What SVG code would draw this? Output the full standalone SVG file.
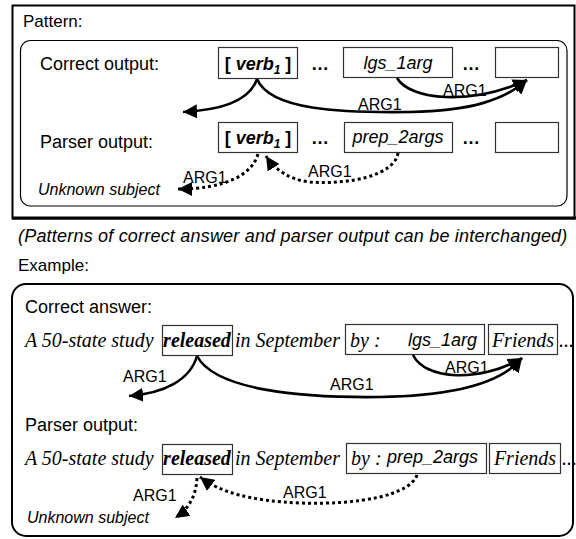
<svg xmlns="http://www.w3.org/2000/svg" width="576" height="539" viewBox="0 0 576 539">
<defs>
<marker id="ah" markerUnits="userSpaceOnUse" markerWidth="16" markerHeight="14" refX="14" refY="7" orient="auto">
<path d="M0,0 L14,7 L0,14 Z" fill="#000"/>
</marker>
<style>
.sans{font-family:"Liberation Sans",Arial,sans-serif;fill:#000}
.serif{font-family:"Liberation Serif","Times New Roman",serif;fill:#000;font-style:italic;font-size:20px}
.lbl{font-size:18px}
.arg{font-size:16px}
.it{font-style:italic}
.box{fill:#fff;stroke:#333;stroke-width:1.2}
.solid{fill:none;stroke:#000;stroke-width:2.6;marker-end:url(#ah)}
.dot{fill:none;stroke:#000;stroke-width:3;stroke-dasharray:3 3;marker-end:url(#ah)}
</style>
</defs>
<g id="pattern-frame">
<rect x="12.5" y="5.5" width="562" height="213" fill="none" stroke="#000" stroke-width="2"/>
<line x1="12" y1="218" x2="576" y2="218" stroke="#000" stroke-width="3"/>
<text class="sans" font-size="17" x="23" y="27">Pattern:</text>
<rect x="20.5" y="40.5" width="546.5" height="165.5" rx="10" fill="none" stroke="#000" stroke-width="1.2"/>
</g>
<g id="pattern-correct">
<text class="sans lbl" x="40" y="70">Correct output:</text>
<g id="p-verb1"><rect class="box" x="218.5" y="47.5" width="79" height="31"/>
<text class="sans lbl" x="258" y="70" text-anchor="middle" font-weight="bold">[ <tspan font-style="italic">verb</tspan><tspan font-style="italic" font-size="12" dy="4">1</tspan><tspan dy="-4"> ]</tspan></text></g>
<text class="sans lbl" x="311" y="70" font-weight="bold">…</text>
<g id="p-lgs"><rect class="box" x="343.5" y="47.5" width="109" height="30"/>
<text class="sans lbl it" x="398" y="69" text-anchor="middle">lgs_1arg</text></g>
<text class="sans lbl" x="462" y="70" font-weight="bold">…</text>
<g id="p-empty1"><rect class="box" x="495.5" y="47.5" width="63" height="30"/></g>
</g>
<g id="pattern-parser">
<text class="sans lbl" x="40" y="148">Parser output:</text>
<g id="p-verb2"><rect class="box" x="218.5" y="122.5" width="79" height="30"/>
<text class="sans lbl" x="258" y="144" text-anchor="middle" font-weight="bold">[ <tspan font-style="italic">verb</tspan><tspan font-style="italic" font-size="12" dy="4">1</tspan><tspan dy="-4"> ]</tspan></text></g>
<text class="sans lbl" x="311" y="144" font-weight="bold">…</text>
<g id="p-prep"><rect class="box" x="344.5" y="122.5" width="108" height="30"/>
<text class="sans lbl it" x="398" y="143" text-anchor="middle">prep_2args</text></g>
<text class="sans lbl" x="462" y="144" font-weight="bold">…</text>
<g id="p-empty2"><rect class="box" x="495.5" y="122.5" width="63" height="30"/></g>
<text class="sans arg it" x="38" y="195">Unknown subject</text>
</g>
<g id="caption">
<text class="sans it" font-size="18" letter-spacing="0.2" x="18" y="242">(Patterns of correct answer and parser output can be interchanged)</text>
<text class="sans" font-size="17" x="18" y="271">Example:</text>
</g>
<g id="example-frame">
<rect x="12" y="284" width="561" height="252" rx="14" fill="none" stroke="#000" stroke-width="2"/>
</g>
<g id="example-correct">
<text class="sans lbl" x="25" y="313">Correct answer:</text>
<text class="serif" x="25" y="347">A 50-state study</text>
<g id="e-released1"><rect class="box" x="162.5" y="325.5" width="70" height="30"/>
<text class="serif" x="197" y="347" text-anchor="middle" font-weight="bold">released</text></g>
<text class="serif" x="235" y="347">in September</text>
<g id="e-by1"><rect class="box" x="345.5" y="324.5" width="139" height="30"/>
<text class="serif" x="350" y="347">by :</text>
<text class="sans lbl it" x="408" y="346">lgs_1arg</text></g>
<g id="e-friends1"><rect class="box" x="488.5" y="324.5" width="69" height="30"/>
<text class="serif" x="523" y="347" text-anchor="middle">Friends</text></g>
<text class="serif" x="559" y="347">...</text>
</g>
<g id="example-parser">
<text class="sans lbl" x="25" y="431">Parser output:</text>
<text class="serif" x="25" y="465">A 50-state study</text>
<g id="e-released2"><rect class="box" x="162.5" y="444.5" width="70" height="30"/>
<text class="serif" x="197" y="465" text-anchor="middle" font-weight="bold">released</text></g>
<text class="serif" x="235" y="465">in September</text>
<g id="e-by2"><rect class="box" x="346.5" y="443.5" width="140" height="30"/>
<text class="serif" x="351" y="465">by :</text>
<text class="sans lbl it" x="387" y="463">prep_2args</text></g>
<g id="e-friends2"><rect class="box" x="489.5" y="443.5" width="71" height="30"/>
<text class="serif" x="525" y="465" text-anchor="middle">Friends</text></g>
<text class="serif" x="562" y="465">...</text>
<text class="sans arg it" x="27" y="523">Unknown subject</text>
</g>
<g id="connectors">
<path class="solid" d="M257,79 C250,100 225,110 183,112"/>
<path class="solid" d="M257,79 C270,110 340,113 410,112 C470,111 505,100 527,80"/>
<path class="solid" d="M397,78 C410,100 470,106 527,80"/>
<path class="dot" d="M258,154 C252,175 225,189 178,189"/>
<path class="dot" d="M398,153 C395,175 350,185 310,182 C290,180 275,170 266,156"/>
<path class="solid" d="M197,356 C190,380 165,393 129,396"/>
<path class="solid" d="M197,356 C215,390 300,398 380,397 C450,396 500,385 522,358"/>
<path class="solid" d="M413,355 C425,380 480,383 522,358"/>
<path class="dot" d="M417,475 C410,495 360,505 300,503 C250,501 220,492 200,477"/>
<path class="dot" d="M197,478 C196,495 190,508 175,518"/>
<g class="sans arg">
<text x="358" y="110">ARG1</text>
<text x="443" y="96">ARG1</text>
<text x="183" y="183">ARG1</text>
<text x="308" y="177">ARG1</text>
<text x="123" y="382">ARG1</text>
<text x="330" y="390">ARG1</text>
<text x="445" y="373">ARG1</text>
<text x="133" y="501">ARG1</text>
<text x="283" y="498">ARG1</text>
</g>
</g>
</svg>
